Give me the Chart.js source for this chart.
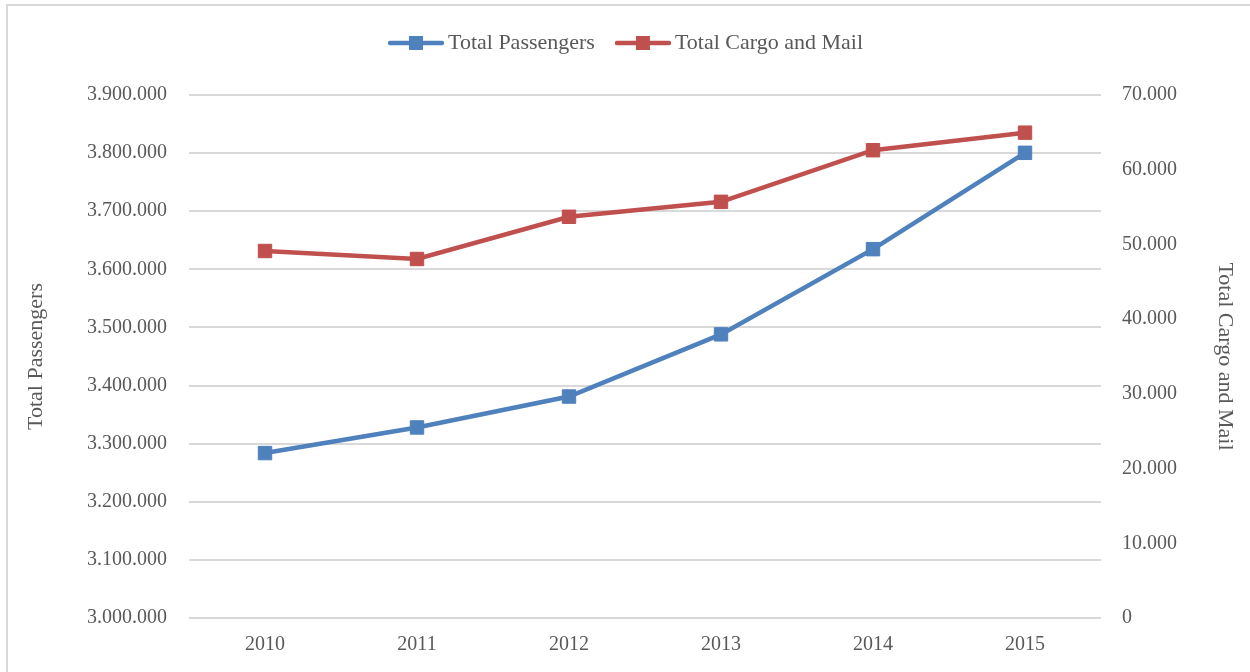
<!DOCTYPE html>
<html>
<head>
<meta charset="utf-8">
<script src="https://cdn.jsdelivr.net/npm/chart.js@4"></script>
<style>
  html, body { margin: 0; padding: 0; background: #fff; }
  #wrap { position: relative; width: 1250px; height: 672px; }
</style>
</head>
<body>
<div id="wrap"><canvas id="chart" width="1250" height="672"></canvas></div>
<script>
/* Passengers vs cargo, 2010-2015 — dual axis line chart */

const YEARS      = ["2010", "2011", "2012", "2013", "2014", "2015"];
const PASSENGERS = [3283800, 3327900, 3381100, 3488100, 3634700, 3800500];
const CARGO      = [49120, 48050, 53700, 55700, 62610, 64960];

const BLUE = "#4F81BD";
const RED  = "#C0504D";
const TEXT = "#595959";
const GRID = "#d9d9d9";
const FONT = "'Liberation Serif', 'DejaVu Serif', serif";

// dots as thousands separator, e.g. 3.900.000
const fmtDot = (v) => Math.round(v).toString().replace(/\B(?=(\d{3})+(?!\d))/g, ".");

// legend marker: line with a square in the middle
function legendIcon(color) {
  const c = document.createElement("canvas");
  c.width = 56; c.height = 16;
  const g = c.getContext("2d");
  g.strokeStyle = color;
  g.lineWidth = 4.5;
  g.lineCap = "round";
  g.beginPath(); g.moveTo(2, 8); g.lineTo(54, 8); g.stroke();
  g.fillStyle = color;
  g.fillRect(21, 1, 14, 14);
  return c;
}
const ICONS = [legendIcon(BLUE), legendIcon(RED)];

const frame = {
  id: "frame",
  beforeDraw(chart) {
    const ctx = chart.ctx;
    ctx.save();
    ctx.strokeStyle = GRID;
    ctx.lineWidth = 2;
    ctx.beginPath();
    ctx.moveTo(7, 672); ctx.lineTo(7, 5); ctx.lineTo(1250, 5);
    ctx.stroke();
    ctx.restore();
  },
};

// extra room under the legend
const legendGap = {
  id: "legendGap",
  beforeUpdate(chart) {
    const lg = chart.legend;
    if (!lg || lg._gapPatched) return;
    const fit = lg.fit;
    lg.fit = function () { fit.call(this); this.height += 31; };
    lg._gapPatched = true;
  },
};

const series = (label, data, color, axis) => ({
  label, data,
  yAxisID: axis,
  borderColor: color,
  backgroundColor: color,
  borderWidth: 4.5,
  pointStyle: "rect",
  pointRadius: 9.5,
  pointBorderWidth: 1,
  pointBackgroundColor: color,
  pointBorderColor: color,
  tension: 0,
});

new Chart(document.getElementById("chart"), {
  type: "line",
  data: {
    labels: YEARS,
    datasets: [
      series("Total Passengers", PASSENGERS, BLUE, "y"),
      series("Total Cargo and Mail", CARGO, RED, "y1"),
    ],
  },
  options: {
    responsive: false,
    animation: false,
    layout: { padding: { left: 20, right: 12, top: 5, bottom: 0 } },
    plugins: {
      tooltip: { enabled: false },
      legend: {
        position: "top",
        labels: {
          usePointStyle: true,
          pointStyleWidth: 42,
          padding: 27,
          color: TEXT,
          font: { family: FONT, size: 22 },
          generateLabels(chart) {
            return chart.data.datasets.map((ds, i) => ({
              text: ds.label,
              fontColor: TEXT,
              pointStyle: ICONS[i],
              datasetIndex: i,
              hidden: false,
              lineWidth: 0,
            }));
          },
        },
      },
    },
    scales: {
      x: {
        offset: true,
        grid: { display: false, drawTicks: false },
        border: { display: false },
        ticks: { color: TEXT, font: { family: FONT, size: 20 }, padding: 15 },
      },
      y: {
        position: "left",
        min: 3000000, max: 3900000,
        afterFit(s) { s.width = 169; },
        grid: { color: GRID, lineWidth: 2, drawTicks: false },
        border: { display: false },
        ticks: {
          stepSize: 100000, padding: 22, color: TEXT,
          font: { family: FONT, size: 20 },
          callback: fmtDot,
        },
        title: {
          display: true, text: "Total Passengers", color: TEXT,
          font: { family: FONT, size: 22 }, padding: { top: 3, bottom: 0 },
        },
      },
      y1: {
        position: "right",
        min: 0, max: 70000,
        afterFit(s) { s.width = 137; },
        grid: { display: false, drawTicks: false },
        border: { display: false },
        ticks: {
          stepSize: 10000, padding: 21, color: TEXT,
          font: { family: FONT, size: 20 },
          callback: fmtDot,
        },
        title: {
          display: true, text: "Total Cargo and Mail", color: TEXT,
          font: { family: FONT, size: 22 }, padding: { top: 0, bottom: 6 },
        },
      },
    },
  },
  plugins: [frame, legendGap],
});
</script>
</body>
</html>
